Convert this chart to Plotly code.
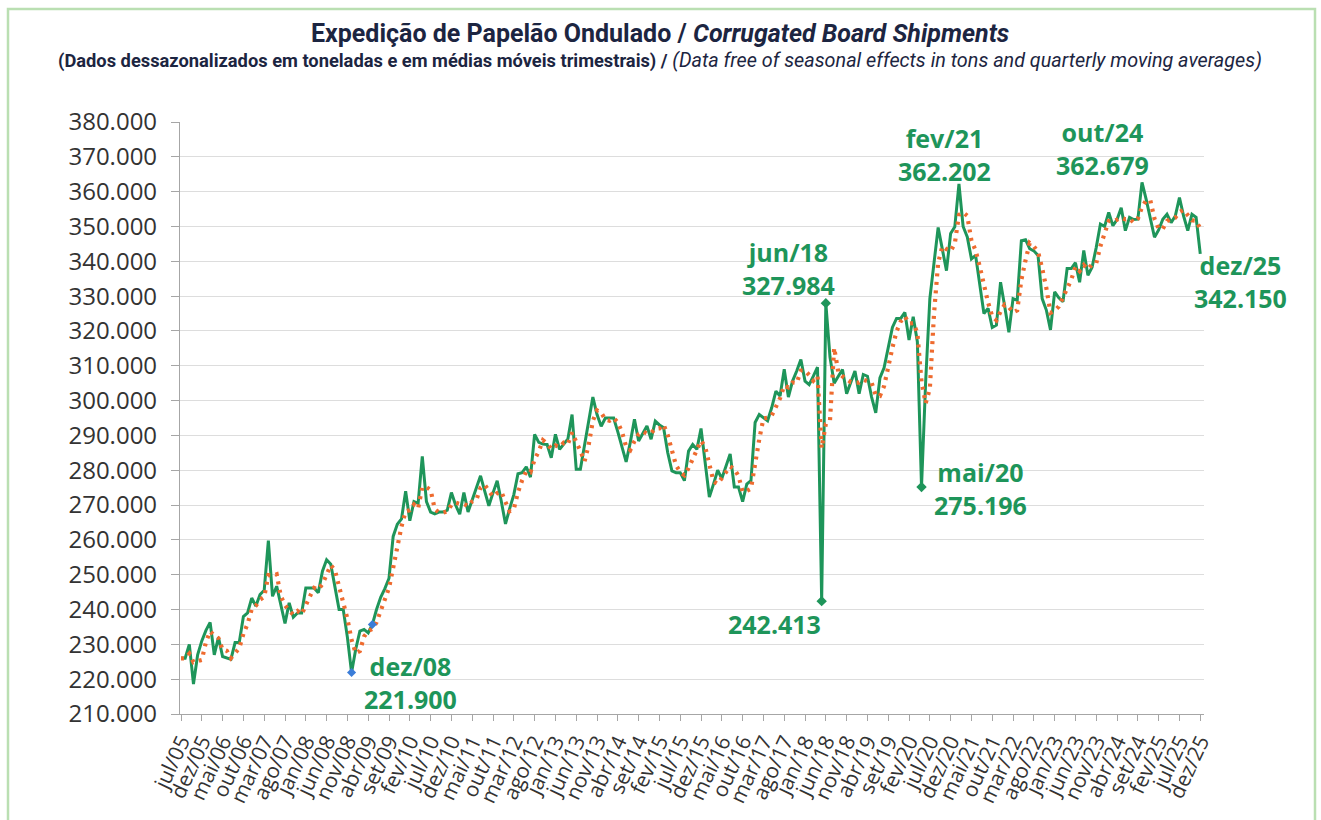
import plotly.graph_objects as go
import pandas as pd

# ---------------- data (thousand tons, seasonally adjusted) ----------------
months_pt = ["jan", "fev", "mar", "abr", "mai", "jun", "jul", "ago", "set", "out", "nov", "dez"]

ship_2005_2008 = [226, 226, 230, 218.6, 227, 231, 234, 236.3, 227, 232, 226.5, 226,
                  225.7, 230.5, 230.5, 238, 239, 243.3, 241, 244.3, 245.5, 259.8, 243.8, 246.7,
                  241, 236, 241.9, 237.8, 239, 239, 246.2, 246.2, 246.2, 244.8, 251, 254.3,
                  253, 246.5, 240, 240, 232, 221.9]
ship_2009_2012 = [228.6, 233.8, 234.3, 233.3, 235.7, 240, 243.5, 246, 249, 261, 264.5, 266,
                  274, 265.5, 271, 270.5, 284, 271, 268, 267.5, 268, 268, 268.5, 273.6,
                  270, 267.4, 273.6, 268, 271.5, 275, 278.4, 274, 269.8, 273.5, 277, 271,
                  264.6, 269, 273, 279, 279.3, 281, 278, 290.3, 288, 287.5, 287.4, 283.6]
ship_2013_2016 = [290.3, 286, 287.5, 289, 296, 280.3, 280.3, 287, 294.6, 301, 296, 292.6,
                  295, 295, 295, 291, 287, 282.4, 288, 294.6, 288.4, 290.5, 292.7, 288.9,
                  294.1, 293, 292.2, 285, 279.8, 279.3, 279.3, 277, 285.5, 287.4, 286, 292,
                  282, 272.3, 276, 280, 277.6, 281, 284.7, 275.2, 275.2, 271, 276, 277]
ship_2017_2020 = [293.7, 296, 295, 294.2, 298, 302.7, 301.3, 309, 301, 305.6, 308.5, 311.8,
                  305.6, 304.6, 307, 309.6, 242.413, 327.984, 312.5, 305, 307, 308.9, 302, 305,
                  308.5, 302, 307.5, 307, 301, 296.5, 306.5, 309.4, 315, 321, 323.6, 323.6,
                  325.3, 317.4, 324.1, 316.9, 275.196, 305.6, 329.3, 339.7, 349.7, 343.5, 337.3, 348]
ship_2021_2025 = [349.9, 362.202, 350, 347, 340.7, 341.7, 333, 325, 326.5, 321, 321.7, 334,
                  327, 319.6, 329.3, 328.8, 345.9, 346.2, 343.6, 343, 341.7, 329.3, 326, 320.3,
                  331.2, 329.5, 328.4, 337.9, 337.9, 339.6, 334, 343.1, 336, 338.3, 344, 350.7,
                  350, 354, 350.2, 352, 355.4, 348.8, 352.6, 352, 352.1, 362.679, 357.8, 352,
                  346.9, 349, 352.1, 353.5, 351.1, 353, 358.3, 353, 348.8, 353.5, 352.6, 342.15]

tick_labels = ["jul/05", "dez/05", "mai/06", "out/06", "mar/07", "ago/07", "jan/08", "jun/08",
               "nov/08", "abr/09", "set/09", "fev/10", "jul/10", "dez/10", "mai/11", "out/11",
               "mar/12", "ago/12", "jan/13", "jun/13", "nov/13", "abr/14", "set/14", "fev/15",
               "jul/15", "dez/15", "mai/16", "out/16", "mar/17", "ago/17", "jan/18", "jun/18",
               "nov/18", "abr/19", "set/19", "fev/20", "jul/20", "dez/20", "mai/21", "out/21",
               "mar/22", "ago/22", "jan/23", "jun/23", "nov/23", "abr/24", "set/24", "fev/25",
               "jul/25", "dez/25"]

y_ticks = list(range(210, 381, 10))

# highlighted months (labels shown on the chart)
highlight_labels = ["dez/08", "mai/18", "jun/18", "mai/20", "fev/21", "out/24", "dez/25"]

# ---------------- derived ----------------
shipments = ship_2005_2008 + ship_2009_2012 + ship_2013_2016 + ship_2017_2020 + ship_2021_2025
n = len(shipments)
x_idx = list(range(n))
month_labels = [f"{months_pt[(6 + i) % 12]}/{(2005 + (6 + i) // 12) % 100:02d}" for i in x_idx]
ma3 = pd.Series(shipments).rolling(3, min_periods=1).mean().tolist()
tick_pos = [month_labels.index(t) for t in tick_labels]
hi = {lab: month_labels.index(lab) for lab in highlight_labels}

GREEN = "#1E955A"
ORANGE = "#EE6B2F"
NAVY = "#1C2541"

fig = go.Figure()
fig.add_trace(go.Scatter(x=x_idx, y=shipments, mode="lines", name="Expedição",
                         line=dict(color=GREEN, width=3), customdata=month_labels,
                         hovertemplate="%{customdata}: %{y:.3f}<extra></extra>"))
fig.add_trace(go.Scatter(x=x_idx, y=ma3, mode="lines", name="Média móvel",
                         line=dict(color=ORANGE, width=4.2, dash="3px,5.5px"),
                         hoverinfo="skip"))
# diamond end markers on the extreme points
dm = [hi["mai/18"], hi["jun/18"], hi["mai/20"]]
fig.add_trace(go.Scatter(x=dm, y=[shipments[i] for i in dm], mode="markers",
                         marker=dict(symbol="diamond", size=8, color=GREEN), hoverinfo="skip"))
bm = [hi["dez/08"], hi["dez/08"] + 5]
fig.add_trace(go.Scatter(x=bm, y=[shipments[i] for i in bm], mode="markers",
                         marker=dict(symbol="diamond", size=7, color="#3B7DD8"), hoverinfo="skip"))

# annotations: (label key, show month?, xshift, yshift)
ann_specs = [("dez/08", True, 59, -10), ("jun/18", True, -37, 35), ("mai/18", False, -47, -23),
             ("mai/20", True, 59, -2), ("fev/21", True, -14, 29), ("out/24", True, -40, 34),
             ("dez/25", True, 40, -28)]
annotations = []
for key, show_m, dx, dy in ann_specs:
    i = hi[key]
    txt = f"{shipments[i]:.3f}"
    if show_m:
        txt = f"{key}<br>{txt}"
    annotations.append(dict(x=i, y=shipments[i], xref="x", yref="y", text=txt, showarrow=False,
                            xshift=dx, yshift=dy, xanchor="center", yanchor="middle",
                            font=dict(family="Open Sans", size=25, color=GREEN, weight="bold")))

# titles
annotations.append(dict(x=0.469, y=(719 - 33) / 597, xref="paper", yref="paper", showarrow=False,
                        xanchor="center", yanchor="middle",
                        text="<b>Expedição de Papelão Ondulado / <i>Corrugated Board Shipments</i></b>",
                        font=dict(family="Roboto", size=25, color=NAVY)))
annotations.append(dict(x=0.469, y=(719 - 60) / 597, xref="paper", yref="paper", showarrow=False,
                        xanchor="center", yanchor="middle",
                        text="<span style='font-size:18.3px'><b>(Dados dessazonalizados em toneladas e em médias móveis trimestrais) /</b></span> "
                             "<span style='font-size:19.8px'><i>(Data free of seasonal effects in tons and quarterly moving averages)</i></span>",
                        font=dict(family="Roboto", size=19, color=NAVY)))

fig.update_layout(
    width=1321, height=820,
    margin=dict(l=180, r=117, t=122, b=101),
    paper_bgcolor="white", plot_bgcolor="white",
    showlegend=False,
    annotations=annotations,
    shapes=[dict(type="rect", xref="paper", yref="paper",
                 x0=(8 - 180) / 1024, x1=(1315 - 180) / 1024,
                 y0=(719 - 840) / 597, y1=(719 - 8) / 597,
                 line=dict(color="#BADFB2", width=2.5), fillcolor="rgba(0,0,0,0)", layer="below")],
)
fig.update_xaxes(range=[-0.24, 245.9], tickmode="array", tickvals=tick_pos, ticktext=tick_labels,
                 tickangle=-65, ticks="outside", ticklen=6, tickcolor="#A6A6A6",
                 showline=True, linecolor="#A6A6A6", linewidth=1.2, showgrid=False, zeroline=False,
                 tickfont=dict(family="Open Sans", size=21, color="#333333"))
fig.update_yaxes(range=[210, 380], tickmode="array", tickvals=y_ticks,
                 ticktext=[f"{v}.000" for v in y_ticks],
                 ticks="outside", ticklen=8, tickcolor="#A6A6A6",
                 showline=True, linecolor="#A6A6A6", linewidth=1.2,
                 showgrid=True, gridcolor="#DDDDDD", gridwidth=1, zeroline=False,
                 ticklabelstandoff=9,
                 tickfont=dict(family="Open Sans", size=24, color="#333333"))

fig.write_html("out.html", config={"displayModeBar": False},
               post_script="document.body.style.margin='0';")
